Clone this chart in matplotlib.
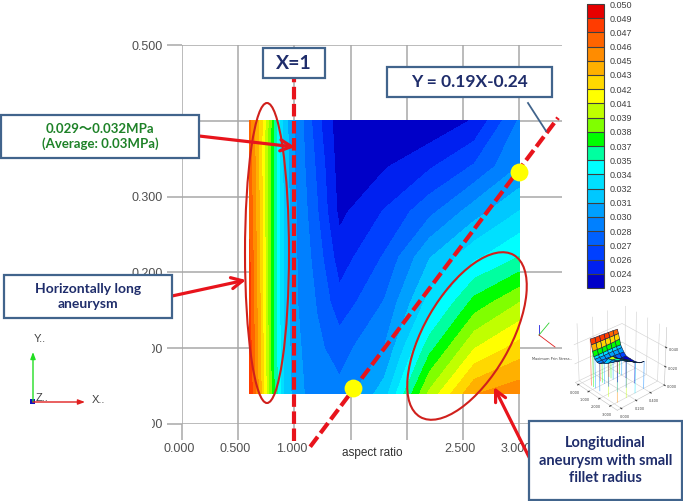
import numpy as np
import matplotlib
matplotlib.use('Agg')
import matplotlib.pyplot as plt
from matplotlib.colors import ListedColormap, BoundaryNorm
from matplotlib.patches import Ellipse, Rectangle
from matplotlib.transforms import ScaledTranslation

# Contour data: aspect ratio (x), fillet parameter (y), stress (z)
x_nodes = [0.6, 0.7, 0.8, 0.9, 1.0, 1.2, 1.4, 1.8, 2.2, 2.6, 3.0]
y_nodes = [0.04, 0.10, 0.16, 0.22, 0.28, 0.34, 0.40]
stress = [
    [.0486, .0435, .0375, .0325, .0305, .0288, .0288, .0318, .0395, .0445, .0455],
    [.0480, .0432, .0372, .0325, .0302, .0287, .0278, .0298, .0360, .0405, .0425],
    [.0478, .0430, .0370, .0325, .0300, .0283, .0262, .0285, .0330, .0370, .0392],
    [.0475, .0428, .0370, .0325, .0300, .0278, .0250, .0272, .0310, .0335, .0352],
    [.0470, .0427, .0370, .0325, .0300, .0272, .0240, .0258, .0280, .0305, .0325],
    [.0468, .0425, .0370, .0323, .0298, .0268, .0237, .0242, .0255, .0272, .0298],
    [.0462, .0425, .0375, .0320, .0298, .0262, .0235, .0232, .0232, .0245, .0286],
]

levels = [.023, .02435, .0257, .02705, .0284, .02975, .0311, .03245, .0338, .03515, .0365,
          .03785, .0392, .04055, .0419, .04325, .0446, .04595, .0473, .04865, .05]
level_labels = ['0.023', '0.024', '0.026', '0.027', '0.028', '0.030', '0.031', '0.032', '0.034', '0.035', '0.037',
                '0.038', '0.039', '0.041', '0.042', '0.043', '0.045', '0.046', '0.047', '0.049', '0.050']
band_colors = ['#0000c8', '#0020f0', '#0040ff', '#0060ff', '#0080ff', '#00a0ff', '#00c8ff', '#00e0ff',
               '#00ffff', '#00ffa0', '#00ff00', '#80ff00', '#c0ff00', '#ffff00', '#ffd800', '#ffb000',
               '#ff8c00', '#ff6400', '#ff3c00', '#e60000']

x_ticks = [0, 0.5, 1.0, 1.5, 2.0, 2.5, 3.0]
x_tick_labels = ['0.000', '0.500', '1.000', '', '', '2.500', '3.000']
y_ticks = [0, 0.1, 0.2, 0.3, 0.4, 0.5]
y_tick_labels = ['0.000', '0.100', '0.200', '0.300', '', '0.500']

x1_line_x = [1.0, 1.0]
x1_line_y = [-0.023, 0.455]
trend_x = [1.14, 3.345]
trend_y = [-0.03, 0.404]
dots_x = [1.52, 3.0]
dots_y = [0.047, 0.333]

W, H = 683, 501
RED = '#e8141c'
NAVY = '#1f2d6b'
EDGE = '#41648c'
GRID = '#a8a8a8'
BOLD = ['Lato', 'Noto Sans CJK JP', 'DejaVu Sans']
TICK_FONT = 'Liberation Sans'

fig = plt.figure(figsize=(W / 100, H / 100), dpi=100)


def px_rect(x0, y0, x1, y1):
    return [x0 / W, 1 - y1 / H, (x1 - x0) / W, (y1 - y0) / H]


# Main contour plot
ax = fig.add_axes(px_rect(182, 45, 562, 424))
ax.set_xlim(0, 3.38)
ax.set_ylim(0, 0.5)
cmap = ListedColormap(band_colors)
norm = BoundaryNorm(levels, cmap.N)
cs = ax.contourf(x_nodes, y_nodes, stress, levels=levels, colors=band_colors, zorder=2)
ax.set_axisbelow(True)
ax.grid(True, color=GRID, linewidth=1.1)
for s in ax.spines.values():
    s.set_visible(False)
ax.set_xticks(x_ticks, x_tick_labels, fontsize=9, family=TICK_FONT, color='#505050')
ax.set_yticks(y_ticks, y_tick_labels, fontsize=9, family=TICK_FONT, color='#505050')
ax.tick_params(axis='x', length=11.5, width=1.1, color=GRID, pad=2)
ax.tick_params(axis='y', length=10.5, width=1.1, color=GRID, pad=3)
shift = ScaledTranslation(-3 / 100, 0, fig.dpi_scale_trans)
for lab in ax.get_xticklabels():
    lab.set_transform(lab.get_transform() + shift)
ax.plot(x1_line_x, x1_line_y, color=RED, lw=3, ls=(0, (3.0, 1.1)), clip_on=False, zorder=4)
ax.plot(trend_x, trend_y, color=RED, lw=3, ls=(0, (3.0, 1.1)), clip_on=False, zorder=4)
ax.scatter(dots_x, dots_y, s=165, color='#ffff00', zorder=5, clip_on=False, linewidths=0)

# Colour bar
cax = fig.add_axes(px_rect(587, 4, 604, 288))
cbar = fig.colorbar(cs, cax=cax, ticks=levels, drawedges=True)
cbar.ax.set_yticklabels(level_labels, fontsize=6.5, family=TICK_FONT, color='#404040')
cbar.ax.tick_params(length=0, pad=4)
cbar.outline.set_edgecolor('#404040')
cbar.dividers.set_color('#404040')
cbar.dividers.set_linewidth(0.8)

# Small 3D thumbnail
ax3 = fig.add_axes(px_rect(553, 285, 683, 430), projection='3d')
ax3.patch.set_alpha(0)
xx, yy = np.meshgrid(x_nodes, y_nodes)
zz = np.array(stress)
ax3.plot_surface(xx, yy, zz, facecolors=cmap(norm(zz)), edgecolor='#102040', linewidth=0.4, shade=False)
for i in range(0, len(y_nodes), 2):
    for j in range(0, len(x_nodes), 2):
        ax3.plot([xx[i, j]] * 2, [yy[i, j]] * 2, [0, zz[i, j]], color=cmap(norm(zz[i, j])), lw=0.5, alpha=0.6)
ax3.set_xlim(-0.3, 3.6)
ax3.set_ylim(-0.05, 0.6)
ax3.set_zlim(0, 0.06)
ax3.view_init(elev=32, azim=-42)
ax3.set_box_aspect((1, 1, 1.05), zoom=0.85)
ax3.set_xticks([0, 1, 2, 3], ['0.000', '1.000', '2.000', '3.000'], fontsize=2.5)
ax3.set_yticks([0, 0.2, 0.4], ['0.000', '0.200', '0.400'], fontsize=2.5)
ax3.set_zticks([0, 0.02, 0.04], ['0.000', '0.020', '0.040'], fontsize=2.5)
ax3.tick_params(length=0, pad=-4, colors='#404040')
for axis in (ax3.xaxis, ax3.yaxis, ax3.zaxis):
    axis.set_pane_color((1, 1, 1, 0))
    axis._axinfo['grid'].update(color='#d0d0d0', linewidth=0.4)
    axis.line.set_color('#c0c0c0')
    axis.line.set_linewidth(0.4)

# Overlay in pixel coordinates for the callouts
ov = fig.add_axes([0, 0, 1, 1], zorder=5)
ov.set_xlim(0, W)
ov.set_ylim(H, 0)
ov.axis('off')
ov.patch.set_alpha(0)
ov.add_patch(Rectangle((100, 338), 52, 100, fc='white', ec='none'))
ov.text(372, 453, 'aspect ratio', fontsize=8.5, family=TICK_FONT, color='#303030', ha='center', va='center')


def box(x0, y0, x1, y1, lines, color=NAVY, size=10):
    ov.add_patch(Rectangle((x0, y0), x1 - x0, y1 - y0, fc='white', ec=EDGE, lw=1.6, zorder=6))
    ov.text((x0 + x1) / 2, (y0 + y1) / 2, lines, color=color, fontsize=size, fontweight='bold',
            family=BOLD, ha='center', va='center', linespacing=1.3, zorder=7)


def arrow(x0, y0, x1, y1):
    ov.annotate('', xy=(x1, y1), xytext=(x0, y0), zorder=5,
                arrowprops=dict(arrowstyle='->,head_width=0.4,head_length=0.8', color=RED, lw=2.3, shrinkA=0, shrinkB=0))


ov.add_patch(Ellipse((267, 253), 44, 300, fc='none', ec='#d0201c', lw=1.5, zorder=4))
ov.add_patch(Ellipse((467, 336), 187, 86, angle=-60, fc='none', ec='#d0201c', lw=1.5, zorder=4))
arrow(199, 136, 295, 147)
arrow(172, 296, 246, 280)
arrow(530, 459, 494, 387)
ov.plot([528, 546], [103, 131], color=EDGE, lw=1.3)
box(1, 115, 199, 158, '0.029～0.032MPa\n(Average: 0.03MPa)', color='#1e8228', size=9.5)
box(4, 275, 172, 318, 'Horizontally long\naneurysm')
box(263, 48, 325, 78, 'X=1', size=14)
box(387, 67, 552, 97, 'Y = 0.19X-0.24', size=12.5)
box(529, 421, 682, 500, 'Longitudinal\naneurysm with small\nfillet radius', size=10.5)

# Axis triad, lower left
ov.annotate('', xy=(33, 352), xytext=(33, 402), arrowprops=dict(arrowstyle='-|>,head_width=0.15', color='#22dd22', lw=1, shrinkA=0, shrinkB=0))
ov.annotate('', xy=(85, 402), xytext=(33, 402), arrowprops=dict(arrowstyle='-|>,head_width=0.15', color='#e02020', lw=1, shrinkA=0, shrinkB=0))
ov.add_patch(Rectangle((30, 399), 5, 5, fc='#1010c0', ec='none'))
for tx, ty, t in [(40, 339, 'Y..'), (98, 400, 'X..'), (42, 398, 'Z..')]:
    ov.text(tx, ty, t, fontsize=8, family=TICK_FONT, color='#404040', ha='center', va='center')

# Thumbnail triad
ov.plot([539, 539], [335, 325], color='#2020e0', lw=0.6)
ov.plot([539, 549], [335, 323], color='#30d030', lw=0.6)
ov.plot([539, 555], [335, 347], color='#e02020', lw=0.6)
ov.text(532, 359, 'Maximum Prin Stress..', fontsize=2.5, ha='left', va='center', color='#404040')

fig.savefig('out.png', dpi=100)
